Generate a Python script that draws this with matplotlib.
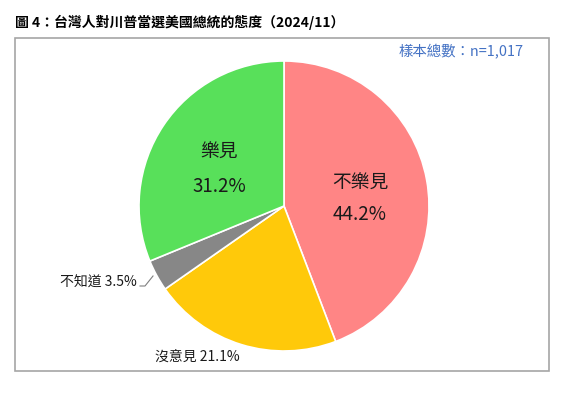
import matplotlib.pyplot as plt
from matplotlib.patches import Rectangle

plt.rcParams['font.family'] = ['Noto Sans CJK TC', 'DejaVu Sans']

# survey data
labels = ['不樂見', '沒意見', '不知道', '樂見']
shares = [44.2, 21.1, 3.5, 31.2]
colors = ['#FF8585', '#FFC90A', '#878787', '#58E05A']
sample_note = '樣本總數：n=1,017'
title = '圖 4：台灣人對川普當選美國總統的態度（2024/11）'

W, H = 570, 398
fig = plt.figure(figsize=(W / 100, H / 100), dpi=100)
ax = fig.add_axes([0, 0, 1, 1])
ax.set_xlim(0, W)
ax.set_ylim(0, H)
ax.axis('off')

# frame around the chart area
ax.add_patch(Rectangle((15, H - 371), 534, 333, fill=False, edgecolor='#A6A6A6', lw=1.2))

wedges, _ = ax.pie(shares, colors=colors, startangle=90, counterclock=False,
                   center=(284, H - 206), radius=145,
                   wedgeprops=dict(edgecolor='white', linewidth=1.2))
ax.set_xlim(0, W)
ax.set_ylim(0, H)
ax.set_aspect('equal')

def yy(y):
    return H - y

# big labels inside slices
ax.text(360, yy(183), labels[0], ha='center', va='center', fontsize=13.5, color='#1a1a1a')
ax.text(360, yy(215), f'{shares[0]}%', ha='center', va='center', fontsize=13.5, color='#1a1a1a')
ax.text(219, yy(152), labels[3], ha='center', va='center', fontsize=13.5, color='#1a1a1a')
ax.text(219, yy(187), f'{shares[3]}%', ha='center', va='center', fontsize=13.5, color='#1a1a1a')

# outside labels
ax.text(197, yy(357), f'{labels[1]} {shares[1]}%', ha='center', va='center', fontsize=10, color='#1a1a1a')
ax.text(137, yy(283), f'{labels[2]} {shares[2]}%', ha='right', va='center', fontsize=10, color='#1a1a1a')
ax.plot([140, 145, 153], [yy(286), yy(286), yy(276)], color='#7f7f7f', lw=0.8)

ax.text(524, yy(52), sample_note, ha='right', va='center', fontsize=10.4, color='#4472C4')
ax.text(15, yy(22), title, ha='left', va='center', fontsize=10, fontweight='bold', color='black')

fig.savefig('out.png', dpi=100)
